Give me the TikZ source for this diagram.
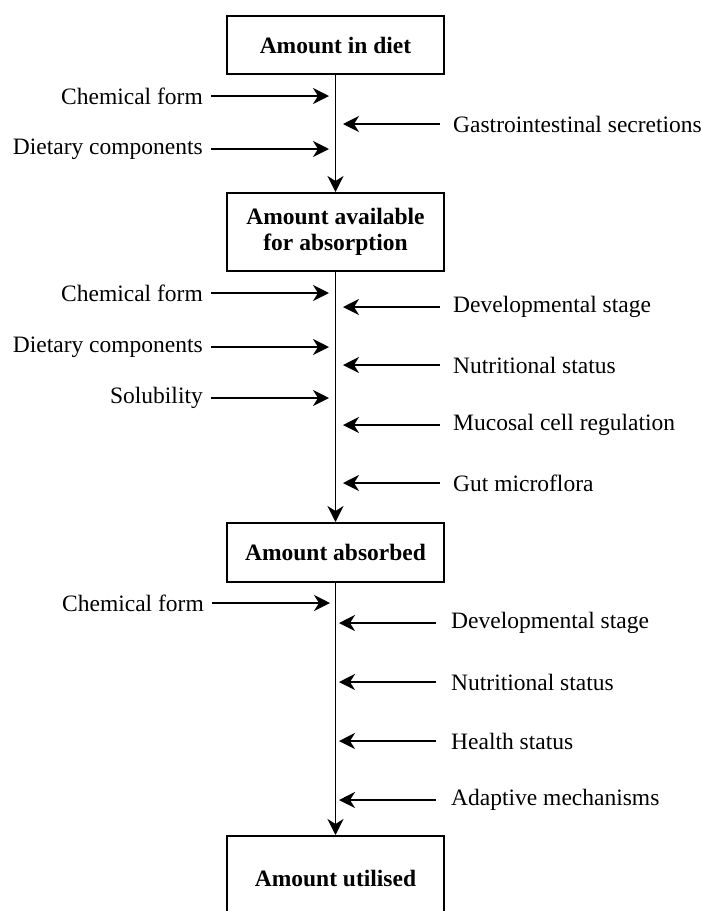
\documentclass[tikz,border=0pt]{standalone}
\usepackage{fontspec}
\setmainfont{Liberation Serif}
\usetikzlibrary{arrows.meta}
\begin{document}
\begin{tikzpicture}[x=1pt,y=-1pt,
  box/.style={draw, line width=2pt, minimum width=217pt, inner sep=0pt,
    font=\fontsize{23.5}{26.5}\selectfont\bfseries, align=center},
  lbl/.style={font=\fontsize{23.5}{26.5}\selectfont, inner ysep=0pt},
  lleft/.style={lbl, anchor=east, inner xsep=8pt},
  lright/.style={lbl, anchor=west, inner xsep=13pt},
  arr/.style={line width=1.8pt, -{Stealth[length=16pt,width=16pt,inset=5pt]}},
]
\useasboundingbox (0,0) rectangle (702,911);
\clip (0,0) rectangle (702,911);

% boxes
\node[box, minimum height=58pt] (b1) at (335.5,45) {Amount in diet};
\node[box, minimum height=78pt] (b2) at (335.5,232) {Amount available\\for absorption};
\node[box, minimum height=59pt] (b3) at (335.5,552.5) {Amount absorbed};
\node[box, minimum height=84pt] (b4) at (335.5,878) {Amount utilised};

% main flow
\draw[arr] (b1.south) -- (b2.north);
\draw[arr] (b2.south) -- (b3.north);
\draw[arr] (b3.south) -- (b4.north);

% section 1
\node[lleft] (a1) at (211,96) {Chemical form};
\coordinate (ta1) at (329,96);
\draw[arr] (a1.east) -- (ta1);
\node[lleft] (a2) at (211,149) {Dietary components};
\coordinate (ta2) at (329,149);
\draw[arr] (a2.east) -- (ta2);
\node[lright] (r1) at (440,124) {Gastrointestinal secretions};
\coordinate (tr1) at (343,124);
\draw[arr] (r1.west) -- (tr1);

% section 2
\node[lleft] (c1) at (211,293) {Chemical form};
\coordinate (tc1) at (329,293);
\draw[arr] (c1.east) -- (tc1);
\node[lleft] (c2) at (211,347) {Dietary components};
\coordinate (tc2) at (329,347);
\draw[arr] (c2.east) -- (tc2);
\node[lleft] (c3) at (211,398) {Solubility};
\coordinate (tc3) at (329,398);
\draw[arr] (c3.east) -- (tc3);

\node[lright] (d1) at (440,307) {Developmental stage};
\coordinate (td1) at (343,307);
\draw[arr] (d1.west) -- (td1);
\node[lright] (d2) at (440,365) {Nutritional status};
\coordinate (td2) at (343,365);
\draw[arr] (d2.west) -- (td2);
\node[lright] (d3) at (440,425) {Mucosal cell regulation};
\coordinate (td3) at (343,425);
\draw[arr] (d3.west) -- (td3);
\node[lright] (d4) at (440,483) {Gut microflora};
\coordinate (td4) at (343,483);
\draw[arr] (d4.west) -- (td4);

% section 3
\node[lleft] (e1) at (212,603) {Chemical form};
\coordinate (te1) at (330,603);
\draw[arr] (e1.east) -- (te1);

\node[lright, inner xsep=15pt] (f1) at (436,623) {Developmental stage};
\coordinate (tf1) at (339,623);
\draw[arr] (f1.west) -- (tf1);
\node[lright, inner xsep=15pt] (f2) at (436,682) {Nutritional status};
\coordinate (tf2) at (339,682);
\draw[arr] (f2.west) -- (tf2);
\node[lright, inner xsep=15pt] (f3) at (436,741) {Health status};
\coordinate (tf3) at (339,741);
\draw[arr] (f3.west) -- (tf3);
\node[lright, inner xsep=15pt] (f4) at (436,800) {Adaptive mechanisms};
\coordinate (tf4) at (339,800);
\draw[arr] (f4.west) -- (tf4);
\end{tikzpicture}
\end{document}
